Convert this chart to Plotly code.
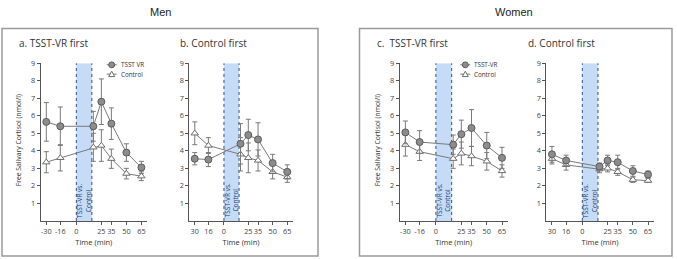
import plotly.graph_objects as go

# ---------------- data ----------------
time_points = [-30, -16, 17, 25, 35, 50, 65]
tick_vals = [-30, -16, 0, 25, 35, 50, 65]
tick_text_signed = ["-30", "-16", "0", "25", "35", "50", "65"]
tick_text_unsigned = ["30", "16", "0", "25", "35", "50", "65"]
y_ticks = [1, 2, 3, 4, 5, 6, 7, 8, 9]
band_range = [0, 15.5]

panel_titles = ["a. TSST-VR first", "b. Control first", "c.  TSST-VR first", "d. Control first"]
group_titles = ["Men", "Women"]

# Men, TSST-VR first
a_tsst = [5.65, 5.4, 5.4, 6.8, 5.55, 3.9, 3.05]
a_tsst_err = [1.1, 1.1, 0.85, 1.3, 0.9, 0.5, 0.35]
a_ctrl = [3.35, 3.6, 4.2, 4.3, 3.55, 2.7, 2.55]
a_ctrl_err = [0.6, 0.75, 0.8, 0.9, 0.55, 0.3, 0.25]
# Men, Control first
b_tsst = [3.55, 3.5, 4.4, 4.9, 4.65, 3.3, 2.8]
b_tsst_err = [0.35, 0.4, 1.15, 0.9, 0.95, 0.5, 0.4]
b_ctrl = [5.0, 4.3, 3.8, 3.6, 3.45, 2.8, 2.5]
b_ctrl_err = [0.65, 0.45, 0.95, 0.85, 0.6, 0.4, 0.3]
# Women, TSST-VR first
c_tsst = [5.05, 4.5, 4.35, 4.95, 5.3, 4.3, 3.6]
c_tsst_err = [0.65, 0.65, 0.55, 0.8, 1.05, 0.75, 0.6]
c_ctrl = [4.35, 3.95, 3.55, 3.85, 3.7, 3.4, 2.85]
c_ctrl_err = [0.65, 0.5, 0.55, 0.65, 0.55, 0.5, 0.35]
# Women, Control first
d_tsst = [3.8, 3.45, 3.1, 3.45, 3.35, 2.85, 2.65]
d_tsst_err = [0.45, 0.3, 0.2, 0.3, 0.4, 0.3, 0.2]
d_ctrl = [3.55, 3.2, 2.95, 3.0, 2.8, 2.35, 2.3]
d_ctrl_err = [0.3, 0.3, 0.2, 0.2, 0.2, 0.15, 0.1]

legend_names_a = ["TSST VR", "Control"]
legend_names_c = ["TSST-VR", "Control"]
band_label = "TSST-VR vs.<br>Control"
y_title = "Free Salivary Cortisol (nmol/l)"
x_title = "Time (min)"

# ---------------- layout helpers ----------------
W, H = 677, 259
def px(x):
    return x / W
def py(y):
    return 1 - y / H

x_domains = [[px(40.7), px(147)], [px(189.3), px(292.7)],
             [px(399.7), px(507.7)], [px(546.3), px(653.7)]]
y_domain = [py(220.2), py(59.3)]
x_range = [-35.6, 70.6]

FONT = "Open Sans"
AX = "#555555"
LINE = "#7a7a7a"
CIRC_FILL = "#8c8c8c"
CIRC_LINE = "#5c5c5c"
TRI_LINE = "#6e6e6e"

fig = go.Figure()

panels = [
    (a_tsst, a_tsst_err, a_ctrl, a_ctrl_err, tick_text_signed),
    (b_tsst, b_tsst_err, b_ctrl, b_ctrl_err, tick_text_unsigned),
    (c_tsst, c_tsst_err, c_ctrl, c_ctrl_err, tick_text_signed),
    (d_tsst, d_tsst_err, d_ctrl, d_ctrl_err, tick_text_unsigned),
]

for i, (ts, tse, ct, cte, ttext) in enumerate(panels):
    n = i + 1
    xa = "x" if n == 1 else f"x{n}"
    ya = "y" if n == 1 else f"y{n}"
    fig.add_trace(go.Scatter(
        x=time_points, y=ct, mode="lines+markers", xaxis=xa, yaxis=ya,
        name="Control", showlegend=False,
        line=dict(color=LINE, width=1),
        marker=dict(symbol="triangle-up", size=6.5, color="white",
                    line=dict(color=TRI_LINE, width=1)),
        error_y=dict(type="data", array=cte, color=LINE, thickness=1, width=2.5),
    ))
    fig.add_trace(go.Scatter(
        x=time_points, y=ts, mode="lines+markers", xaxis=xa, yaxis=ya,
        name="TSST-VR", showlegend=False,
        line=dict(color=LINE, width=1),
        marker=dict(symbol="circle", size=7, color=CIRC_FILL,
                    line=dict(color=CIRC_LINE, width=1)),
        error_y=dict(type="data", array=tse, color=LINE, thickness=1, width=2.5),
    ))

    axis_common = dict(showline=True, linecolor=AX, linewidth=1, ticks="outside",
                       ticklen=3, tickcolor=AX, tickwidth=1, showgrid=False,
                       zeroline=False, tickangle=0,
                       tickfont=dict(family=FONT, size=7.3, color="#444"))
    fig.layout[f"xaxis{'' if n == 1 else n}"] = dict(
        domain=x_domains[i], range=x_range, anchor=ya, tickmode="array",
        tickvals=tick_vals, ticktext=ttext,
        title=dict(text=x_title, font=dict(family=FONT, size=7.5, color="#333"), standoff=5),
        **axis_common)
    fig.layout[f"yaxis{'' if n == 1 else n}"] = dict(
        domain=y_domain, range=[0, 9], anchor=xa, tickmode="array", tickvals=y_ticks,
        **axis_common)

    # stimulus band
    fig.add_shape(type="rect", xref=xa, yref=ya, x0=band_range[0], x1=band_range[1],
                  y0=0, y1=9, fillcolor="#c6dbf6", line=dict(width=0), layer="below")
    for bx in band_range:
        fig.add_shape(type="line", xref=xa, yref=ya, x0=bx, x1=bx, y0=0, y1=9,
                      line=dict(color="#2b4f8a", width=1, dash="dot"), layer="below")
    fig.add_annotation(x=(band_range[0] + band_range[1]) / 2, y=1.15, xref=xa, yref=ya,
                       text=band_label, textangle=-90, showarrow=False,
                       font=dict(family=FONT, size=6.5, color="#23406e"),
                       xanchor="center", yanchor="middle")

    # panel titles
    title_x = [17, 178, 375, 526][i]
    fig.add_annotation(x=px(title_x), y=py(39), xref="paper", yref="paper",
                       text=panel_titles[i], showarrow=False, xanchor="left", yanchor="middle",
                       font=dict(family=FONT, size=10, color="#333"))

# y titles
for xx in [18, 377]:
    fig.add_annotation(x=px(xx), y=py(138), xref="paper", yref="paper", text=y_title,
                       textangle=-90, showarrow=False, xanchor="center", yanchor="middle",
                       font=dict(family=FONT, size=6.8, color="#333"))

# group titles and boxes
for title, cx in zip(group_titles, [160, 514]):
    fig.add_annotation(x=px(cx), y=py(7), xref="paper", yref="paper", text=title,
                       showarrow=False, xanchor="center", yanchor="middle",
                       font=dict(family="Liberation Sans", size=11, color="#222"))
for x0, x1 in [(2, 318), (359.5, 672)]:
    fig.add_shape(type="rect", xref="paper", yref="paper", x0=px(x0), x1=px(x1),
                  y0=py(256), y1=py(24), line=dict(color="#9a9a9a", width=1.5))

# small in-panel legends (panels a and c)
for (mx, names) in [(111.7, legend_names_a), (465.3, legend_names_c)]:
    for row, (nm, yy) in enumerate(zip(names, [61, 70.5])):
        fig.add_shape(type="line", xref="paper", yref="paper", x0=px(mx - 5), x1=px(mx + 5),
                      y0=py(yy), y1=py(yy), line=dict(color=LINE, width=1))
        if row == 0:
            fig.add_shape(type="circle", xref="paper", yref="paper",
                          x0=px(mx - 3), x1=px(mx + 3), y0=py(yy + 3), y1=py(yy - 3),
                          fillcolor=CIRC_FILL, line=dict(color=CIRC_LINE, width=1))
        else:
            fig.add_shape(type="path", xref="paper", yref="paper",
                          path=f"M {px(mx-3)},{py(yy+2.5)} L {px(mx+3)},{py(yy+2.5)} L {px(mx)},{py(yy-3)} Z",
                          fillcolor="white", line=dict(color=TRI_LINE, width=1))
        fig.add_annotation(x=px(mx + 7), y=py(yy), xref="paper", yref="paper", text=nm,
                           showarrow=False, xanchor="left", yanchor="middle",
                           font=dict(family=FONT, size=6.3, color="#333"))

fig.update_layout(
    width=W, height=H, margin=dict(l=0, r=0, t=0, b=0),
    paper_bgcolor="white", plot_bgcolor="white", showlegend=False,
)

fig.write_html("out.html", config={"displayModeBar": False},
               post_script="document.body.style.margin='0';")
